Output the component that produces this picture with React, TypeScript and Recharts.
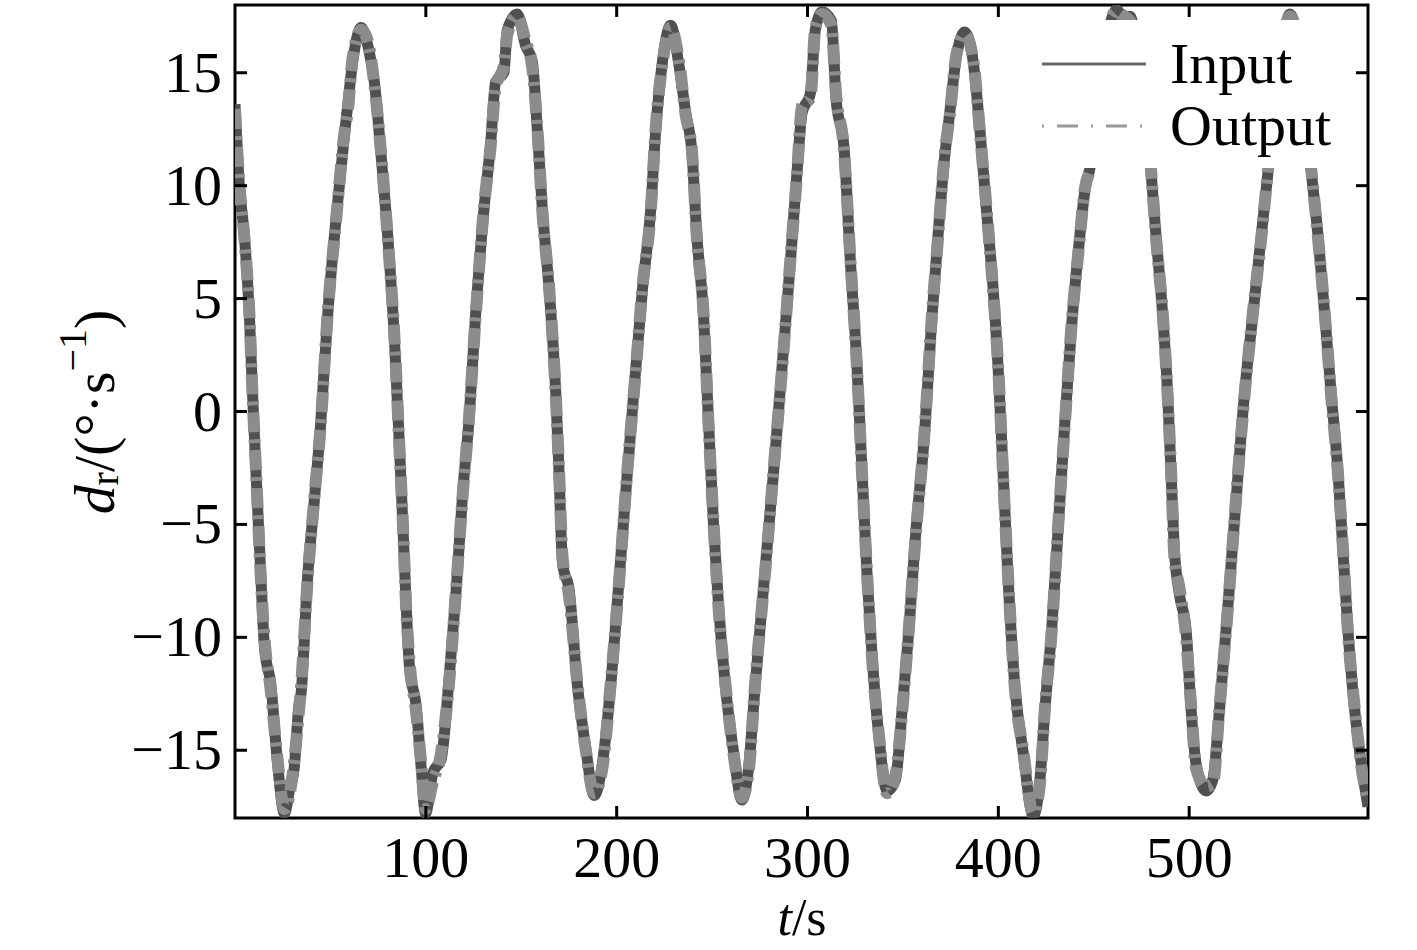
import React from "react";
import { LineChart, Line, XAxis, YAxis, ReferenceArea, Legend } from "recharts";

// ---- data ----
const T = [
  0, 2.2, 4.9, 7.5, 9.2, 11, 13.6, 15.4, 18.8, 22.3, 25.9, 28.5, 31, 33.5, 34.6, 38, 41.6, 45, 48.6, 52.9,
  57.3, 59.1, 61.7, 66.1, 69.6, 73, 76.6, 80, 83.6, 86.2, 88, 89.7, 91.5, 94.9, 97.6, 99.8, 103.7, 108, 112.4, 115.9,
  119.4, 122.6, 126.1, 130.4, 133.9, 136.6, 140.9, 142.7, 147.9, 152.3, 155.8, 158.4, 161.1, 164.6, 168.1, 169.8, 171.6, 175.1, 179.4, 183.8,
  188.2, 192.5, 196.9, 201.3, 205.6, 210, 213.5, 217.8, 220.5, 224, 228.3, 232.7, 236.2, 239.4, 242, 245.5, 248.1, 250.8, 253.4, 256.9,
  261.3, 265.6, 269.1, 272.6, 277.9, 282.2, 286.6, 291, 294.5, 297.1, 301.5, 304.1, 307.6, 312.5, 315, 319, 322.5, 326, 328.6, 331.3,
  333.9, 337.4, 341.7, 346.1, 349.6, 353.1, 356.6, 361.4, 364.9, 368.4, 371.9, 374.5, 378, 382.4, 386.8, 390.3, 393.8, 397.3, 399.9, 402.5,
  405.1, 408.6, 413, 418.3, 421.8, 424.4, 427.9, 431.4, 434.9, 438.4, 441.9, 445.4, 448.5, 452, 456, 459, 462, 466, 469, 473,
  477, 480, 482.6, 486.1, 488.7, 490.5, 492.3, 494.9, 498.4, 501, 503.6, 508.9, 512.4, 515.9, 520.3, 524.6, 529, 533.4, 537.8, 541.3,
  545, 549, 552.8, 557, 561, 564, 567.5, 571, 574.4, 578, 580.6, 583.2, 586.7, 590.2, 593.7,
];

const INPUT = [
  13.6, 10.1, 7.8, 4.3, 0.8, -2.7, -7.4, -10.4, -12.1, -15.6, -17.8, -16.8, -15.8, -13.0, -12.5, -7.4, -3.9, -0.4, 4.3, 8.5,
  12.2, 13.6, 15.5, 17.0, 16.2, 14.6, 11.3, 7.8, 3.1, -1.6, -5.1, -8.6, -11.4, -13.0, -15.8, -17.8, -16.0, -15.4, -11.6, -7.9,
  -3.5, -0.4, 4.3, 8.9, 11.8, 14.6, 15.0, 16.9, 17.6, 16.2, 15.5, 12.5, 8.9, 5.4, 0.8, -2.7, -6.7, -7.9, -12.1, -14.9,
  -17.0, -15.6, -12.1, -7.4, -2.7, 1.9, 5.4, 8.9, 12.5, 15.5, 17.1, 15.3, 13.2, 11.5, 7.8, 4.3, -0.4, -5.1, -8.6, -12.1,
  -15.1, -17.2, -15.8, -12.1, -6.9, -2.7, 1.9, 6.6, 10.6, 13.2, 14.1, 16.9, 17.7, 17.3, 13.8, 11.8, 6.6, 1.9, -2.7, -7.4,
  -10.9, -14.4, -16.8, -16.3, -13.2, -9.7, -5.5, -0.9, 3.8, 7.8, 11.3, 13.2, 15.7, 16.8, 15.5, 12.5, 8.9, 5.4, 1.9, -2.7,
  -7.4, -12.1, -15.1, -17.9, -16.3, -13.2, -9.7, -5.1, -0.4, 3.8, 7.1, 9.8, 11.0, 13.5, 16.0, 17.3, 17.8, 17.4, 17.5, 15.8,
  13.2, 10.6, 7.8, 4.3, 0.8, -2.7, -6.2, -8.1, -9.7, -13.2, -15.6, -16.8, -16.3, -13.2, -8.6, -3.9, 0.8, 4.3, 7.8, 10.6,
  13.5, 16.3, 17.6, 16.3, 13.2, 10.6, 7.8, 4.3, 0.8, -2.7, -6.2, -9.7, -13.2, -15.6, -17.5,
];

const OUTPUT = [
  13.4, 10.2, 7.7, 4.4, 0.7, -2.6, -7.5, -10.0, -12.4, -15.4, -17.6, -17.0, -15.5, -13.3, -12.2, -7.5, -3.8, -0.5, 4.4, 8.4,
  12.3, 13.3, 15.7, 16.9, 16.4, 14.5, 11.4, 7.7, 3.2, -1.7, -5.0, -8.7, -11.1, -13.3, -15.6, -17.6, -16.4, -15.1, -11.8, -7.8,
  -3.6, -0.3, 4.2, 9.0, 11.7, 14.4, 15.3, 16.7, 17.5, 16.4, 15.2, 12.6, 8.8, 5.5, 0.7, -2.6, -6.4, -8.2, -12.0, -15.0,
  -16.9, -15.8, -12.0, -7.5, -2.6, 1.8, 5.5, 8.8, 12.6, 15.4, 17.0, 15.5, 13.1, 11.6, 7.7, 4.4, -0.5, -5.0, -8.7, -12.0,
  -15.2, -17.1, -16.0, -12.0, -7.0, -2.6, 1.8, 6.7, 10.5, 13.5, 13.9, 17.0, 17.6, 17.1, 14.0, 11.7, 6.7, 1.8, -2.8, -7.3,
  -11.0, -14.3, -16.9, -16.1, -13.3, -9.6, -5.6, -0.8, 3.9, 7.7, 11.4, 13.1, 15.8, 16.7, 15.6, 12.4, 9.0, 5.3, 2.0, -2.8,
  -7.3, -12.2, -15.0, -17.8, -16.5, -13.1, -9.8, -5.0, -0.5, 3.9, 7.0, 9.9, 10.9, 13.6, 15.9, 17.4, 17.7, 17.5, 17.3, 15.9,
  13.1, 10.7, 7.7, 4.4, 0.7, -2.6, -6.5, -7.8, -10.0, -13.0, -15.8, -16.6, -16.5, -13.1, -8.7, -3.8, 0.7, 4.4, 7.7, 10.7,
  13.4, 16.4, 17.5, 16.4, 13.1, 10.7, 7.7, 4.4, 0.7, -2.8, -6.1, -9.8, -13.1, -15.7, -17.3,
];

const X_TICKS = [100, 200, 300, 400, 500];
const Y_TICKS = [-15, -10, -5, 0, 5, 10, 15];
const X_DOMAIN: [number, number] = [0, 593.7];
const Y_DOMAIN: [number, number] = [-18, 18];
const SERIES_NAMES = { input: "Input", output: "Output" };

// ---- layout / style ----
const W = 1417;
const H = 950;
const PLOT_LEFT = 235;
const PLOT_RIGHT = 1368;
const PLOT_TOP = 5;
const PLOT_BOTTOM = 818;
const FONT = "'Liberation Serif', 'Times New Roman', serif";
const FS = 58;
const TICK_LEN = 12;
const INPUT_COLOR = "#505050";
const OUTPUT_COLOR = "#8c8c8c";

const data = T.map((t, i) => ({ t, input: INPUT[i], output: OUTPUT[i] }));

const fmt = (v: number) => (v < 0 ? "\u2212" + Math.abs(v) : String(v));

const XTick = (props: any) => {
  const { x, payload } = props;
  return (
    <g>
      <line x1={x} x2={x} y1={PLOT_BOTTOM} y2={PLOT_BOTTOM - TICK_LEN} stroke="#000" strokeWidth={3} />
      <line x1={x} x2={x} y1={PLOT_TOP} y2={PLOT_TOP + TICK_LEN} stroke="#000" strokeWidth={3} />
      <text x={x} y={877} textAnchor="middle" fontSize={FS} fontFamily={FONT} fill="#000">
        {fmt(payload.value)}
      </text>
    </g>
  );
};

const YTick = (props: any) => {
  const { y, payload } = props;
  return (
    <g>
      <line x1={PLOT_LEFT} x2={PLOT_LEFT + TICK_LEN} y1={y} y2={y} stroke="#000" strokeWidth={3} />
      <line x1={PLOT_RIGHT} x2={PLOT_RIGHT - TICK_LEN} y1={y} y2={y} stroke="#000" strokeWidth={3} />
      <text x={222} y={y + 19} textAnchor="end" fontSize={FS} fontFamily={FONT} fill="#000">
        {fmt(payload.value)}
      </text>
    </g>
  );
};

const XLabel = () => (
  <text x={802} y={935} textAnchor="middle" fontSize={52} fontFamily={FONT} fill="#000">
    <tspan fontStyle="italic">t</tspan>
    <tspan>/s</tspan>
  </text>
);

const YLabel = () => (
  <text
    x={94}
    y={412}
    transform="rotate(-90, 94, 412)"
    textAnchor="middle"
    dominantBaseline="central"
    fontSize={FS}
    fontFamily={FONT}
    fill="#000"
  >
    <tspan fontStyle="italic">d</tspan>
    <tspan fontSize={40} dy={10}>r</tspan>
    <tspan dy={-10}>/(°·s</tspan>
    <tspan fontSize={40} dy={-22}>−1</tspan>
    <tspan dy={22}>)</tspan>
  </text>
);

const LegendContent = (props: any) => {
  const payload = props.payload || [];
  return (
    <svg width={320} height={148} style={{ display: "block", background: "#fff" }}>
      {payload.map((entry: any, i: number) => {
        const isOut = entry.dataKey === "output";
        const cy = 44 + i * 62;
        return (
          <g key={entry.dataKey}>
            <line
              x1={10}
              x2={114}
              y1={cy}
              y2={cy}
              stroke={isOut ? "#9a9a9a" : "#666"}
              strokeWidth={3}
              strokeDasharray={isOut ? "2 13 21 13" : undefined}
            />
            <text x={138} y={cy + 19} fontSize={FS} fontFamily={FONT} fill="#000">
              {entry.value}
            </text>
          </g>
        );
      })}
    </svg>
  );
};

export default function App() {
  return (
    <div style={{ position: "absolute", left: 0, top: 0, width: W, height: H, background: "#fff" }}>
      <LineChart
        width={W}
        height={H}
        data={data}
        margin={{ top: PLOT_TOP, right: W - PLOT_RIGHT, bottom: 32, left: 35 }}
      >
        <XAxis
          type="number"
          dataKey="t"
          domain={X_DOMAIN}
          ticks={X_TICKS}
          allowDataOverflow
          interval={0}
          height={100}
          tickLine={false}
          axisLine={false}
          tick={<XTick />}
          label={{ content: () => <XLabel /> }}
        />
        <YAxis
          type="number"
          domain={Y_DOMAIN}
          ticks={Y_TICKS}
          allowDataOverflow
          interval={0}
          width={200}
          tickLine={false}
          axisLine={false}
          tick={<YTick />}
          label={{ content: () => <YLabel /> }}
        />
        <Line
          type="monotone"
          dataKey="input"
          name={SERIES_NAMES.input}
          stroke={INPUT_COLOR}
          strokeWidth={11}
          dot={false}
          strokeLinejoin="round"
          isAnimationActive={false}
        />
        <Line
          type="monotone"
          dataKey="output"
          name={SERIES_NAMES.output}
          stroke={OUTPUT_COLOR}
          strokeWidth={12}
          strokeDasharray="20 7 4 7"
          dot={false}
          isAnimationActive={false}
        />
        <ReferenceArea
          x1={X_DOMAIN[0]}
          x2={X_DOMAIN[1]}
          y1={Y_DOMAIN[0]}
          y2={Y_DOMAIN[1]}
          fill="none"
          fillOpacity={0}
          stroke="#000"
          strokeWidth={3}
        />
        <Legend
          layout="vertical"
          verticalAlign="middle"
          align="center"
          content={<LegendContent />}
          wrapperStyle={{ position: "absolute", left: 1032, top: 20, width: 320, height: 148, margin: 0 }}
        />
      </LineChart>
    </div>
  );
}
